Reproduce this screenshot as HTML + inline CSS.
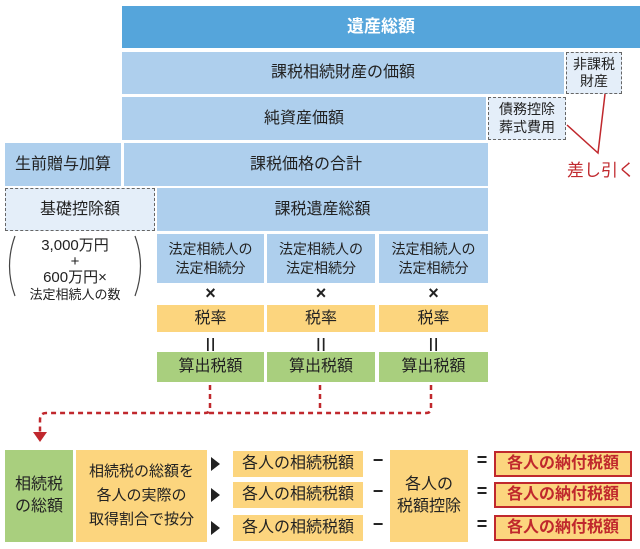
<!DOCTYPE html>
<html><head><meta charset="utf-8"><style>
body{margin:0;width:640px;height:549px;background:#fff;position:relative;overflow:hidden;font-family:"Liberation Sans","Noto Sans CJK JP",sans-serif;color:#222}
.b{position:absolute;display:flex;align-items:center;justify-content:center;text-align:center;box-sizing:border-box;line-height:1.35}
.lb{background:#aecfed;font-size:16px}
.d{background:#e4eef9;border:1.5px dashed #666;font-size:14px;line-height:1.25}
.o{background:#fcd57e;font-size:16px}
.g{background:#a9cf7e;font-size:16px}
.r{background:#fcd57e;border:2px solid #c0282d;color:#c0282d;font-size:16px;font-weight:bold}
.s{position:absolute;font-size:18px;font-weight:bold;text-align:center}
</style></head><body>
<div class="b" style="left:122px;top:6px;width:518px;height:42px;background:#55a5db;color:#fff;font-size:17px;font-weight:bold">遺産総額</div>
<div class="b lb" style="left:122px;top:52px;width:442px;height:42px">課税相続財産の価額</div>
<div class="b d" style="left:566px;top:52px;width:56px;height:42px">非課税<br>財産</div>
<div class="b lb" style="left:122px;top:97px;width:364px;height:43px">純資産価額</div>
<div class="b d" style="left:488px;top:97px;width:78px;height:43px">債務控除<br>葬式費用</div>
<div class="b lb" style="left:5px;top:143px;width:116px;height:43px">生前贈与加算</div>
<div class="b lb" style="left:124px;top:143px;width:364px;height:43px">課税価格の合計</div>
<div class="b d" style="left:5px;top:188px;width:150px;height:43px;font-size:16px">基礎控除額</div>
<div class="b lb" style="left:157px;top:188px;width:331px;height:43px">課税遺産総額</div>
<svg style="position:absolute;left:0;top:0" width="640" height="549">
<path d="M605 94 L598 153 L567 125" fill="none" stroke="#c0282d" stroke-width="1.5"/>
<path d="M15 236 Q4 266 15 296 M135 236 Q146 266 135 296" fill="none" stroke="#444" stroke-width="1.2"/>
<path d="M210 385 V408 Q210 413 205 413 H46 Q40 413 40 420 V432 M320 385 V408 M431 385 V408 Q431 413 426 413 H205" fill="none" stroke="#c0282d" stroke-width="2.5" stroke-dasharray="5 4"/>
<path d="M33 432 L47 432 L40 442 Z" fill="#c0282d"/>
<path d="M211 457 L220 464 L211 471 Z M211 488 L220 495 L211 502 Z M211 521 L220 528 L211 535 Z" fill="#222"/>
</svg>
<div class="b" style="left:566px;top:160px;width:70px;height:22px;color:#c0282d;font-size:17px">差し引く</div>
<div style="position:absolute;left:14px;top:238px;width:122px;text-align:center;font-size:15px;line-height:1.08">3,000万円<br>+<br>600万円×<br><span style="font-size:13px">法定相続人の数</span></div>
<div class="b lb" style="left:157px;top:234px;width:107px;height:49px;font-size:14px;line-height:1.3">法定相続人の<br>法定相続分</div>
<div class="b lb" style="left:267px;top:234px;width:108px;height:49px;font-size:14px;line-height:1.3">法定相続人の<br>法定相続分</div>
<div class="b lb" style="left:379px;top:234px;width:109px;height:49px;font-size:14px;line-height:1.3">法定相続人の<br>法定相続分</div>
<div class="s" style="left:157px;top:283px;width:107px">×</div>
<div class="s" style="left:267px;top:283px;width:108px">×</div>
<div class="s" style="left:379px;top:283px;width:109px">×</div>
<div class="b o" style="left:157px;top:305px;width:107px;height:27px">税率</div>
<div class="b o" style="left:267px;top:305px;width:108px;height:27px">税率</div>
<div class="b o" style="left:379px;top:305px;width:109px;height:27px">税率</div>
<div class="s" style="left:157px;top:331px;width:107px;font-weight:normal">Ⅱ</div>
<div class="s" style="left:267px;top:331px;width:108px;font-weight:normal">Ⅱ</div>
<div class="s" style="left:379px;top:331px;width:109px;font-weight:normal">Ⅱ</div>
<div class="b g" style="left:157px;top:352px;width:107px;height:30px">算出税額</div>
<div class="b g" style="left:267px;top:352px;width:108px;height:30px">算出税額</div>
<div class="b g" style="left:379px;top:352px;width:109px;height:30px">算出税額</div>
<div class="b g" style="left:5px;top:450px;width:68px;height:92px">相続税<br>の総額</div>
<div class="b o" style="left:76px;top:450px;width:131px;height:92px;line-height:1.6;font-size:15px">相続税の総額を<br>各人の実際の<br>取得割合で按分</div>
<div class="b o" style="left:233px;top:451px;width:130px;height:26px">各人の相続税額</div>
<div class="b o" style="left:233px;top:482px;width:130px;height:26px">各人の相続税額</div>
<div class="b o" style="left:233px;top:515px;width:130px;height:26px">各人の相続税額</div>
<div class="s" style="left:368px;top:450px;width:20px">−</div>
<div class="s" style="left:368px;top:481px;width:20px">−</div>
<div class="s" style="left:368px;top:514px;width:20px">−</div>
<div class="b o" style="left:390px;top:450px;width:78px;height:92px">各人の<br>税額控除</div>
<div class="s" style="left:472px;top:450px;width:20px">=</div>
<div class="s" style="left:472px;top:481px;width:20px">=</div>
<div class="s" style="left:472px;top:514px;width:20px">=</div>
<div class="b r" style="left:494px;top:451px;width:138px;height:26px">各人の納付税額</div>
<div class="b r" style="left:494px;top:482px;width:138px;height:26px">各人の納付税額</div>
<div class="b r" style="left:494px;top:515px;width:138px;height:26px">各人の納付税額</div>
</body></html>
